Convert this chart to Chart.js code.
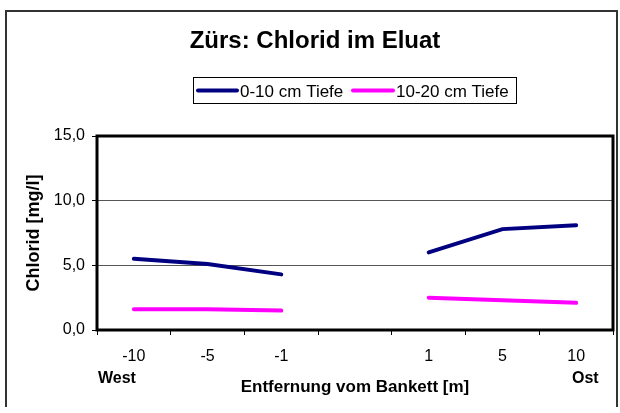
<!DOCTYPE html>
<html>
<head>
<meta charset="utf-8">
<script src="https://cdn.jsdelivr.net/npm/chart.js@4"></script>
<style>
  html, body { margin: 0; padding: 0; background: #fff; }
  #wrap { width: 620px; height: 413px; position: relative; }
</style>
</head>
<body>
<div id="wrap"><canvas id="chart" width="620" height="413"></canvas></div>
<script>
// Zürs – Chlorid im Eluat
const categories = ['-10', '-5', '-1', '', '1', '5', '10'];
const tiefe0_10 = [5.5, 5.1, 4.3, null, 6.0, 7.8, 8.1];
const tiefe10_20 = [1.6, 1.6, 1.5, null, 2.5, 2.3, 2.1];
const yMin = 0, yMax = 15, yStep = 5;

const FONT = "'Liberation Sans', Arial, sans-serif";

const colors = {
  navy: '#000080',
  pink: '#ff00ff',
  frame: '#000',
  grid: '#555',
};

// title, legend box, West/Ost, outer border, plot frame
const decor = {
  id: 'decor',
  afterDraw(chart) {
    const ctx = chart.ctx;
    const a = chart.chartArea;
    ctx.save();

    // outer border
    ctx.strokeStyle = '#333';
    ctx.lineWidth = 2;
    ctx.beginPath();
    ctx.moveTo(6, 407);
    ctx.lineTo(6, 11);
    ctx.lineTo(617, 11);
    ctx.lineTo(617, 407);
    ctx.stroke();

    // plot frame
    ctx.strokeStyle = colors.frame;
    ctx.lineWidth = 3;
    ctx.strokeRect(a.left, a.top, a.right - a.left, a.bottom - a.top);

    // chart title
    ctx.fillStyle = '#000';
    ctx.font = 'bold 24px ' + FONT;
    ctx.textAlign = 'center';
    ctx.textBaseline = 'alphabetic';
    ctx.fillText('Zürs: Chlorid im Eluat', 315, 48);

    // legend
    ctx.lineWidth = 1;
    ctx.strokeStyle = '#000';
    ctx.strokeRect(193.5, 77.5, 323, 26);
    const items = [
      { x0: 198, x1: 237, tx: 240 },
      { x0: 353, x1: 393, tx: 396 },
    ];
    ctx.font = '17px ' + FONT;
    ctx.textAlign = 'left';
    chart.data.datasets.forEach((ds, i) => {
      const it = items[i];
      ctx.strokeStyle = ds.borderColor;
      ctx.lineWidth = 4;
      ctx.lineCap = 'round';
      ctx.beginPath();
      ctx.moveTo(it.x0, 90.5);
      ctx.lineTo(it.x1, 90.5);
      ctx.stroke();
      ctx.fillText(ds.label, it.tx, 97);
    });

    // West / Ost
    ctx.font = 'bold 16px ' + FONT;
    ctx.textAlign = 'left';
    ctx.fillText('West', 98, 383);
    ctx.fillText('Ost', 572, 383);

    ctx.restore();
  }
};

new Chart(document.getElementById('chart'), {
  type: 'line',
  data: {
    labels: categories,
    datasets: [
      {
        label: '0-10 cm Tiefe',
        data: tiefe0_10,
        borderColor: colors.navy,
        backgroundColor: colors.navy,
        borderWidth: 4,
        borderCapStyle: 'round',
        pointRadius: 0,
        tension: 0,
        spanGaps: false,
      },
      {
        label: '10-20 cm Tiefe',
        data: tiefe10_20,
        borderColor: colors.pink,
        backgroundColor: colors.pink,
        borderWidth: 4,
        borderCapStyle: 'round',
        pointRadius: 0,
        tension: 0,
        spanGaps: false,
      }
    ]
  },
  options: {
    responsive: false,
    animation: false,
    devicePixelRatio: 1,
    layout: { padding: { top: 136, right: 7, left: 0, bottom: 0 } },
    plugins: {
      legend: { display: false },
      title: { display: false },
      tooltip: { enabled: false },
    },
    scales: {
      x: {
        type: 'category',
        offset: true,
        afterFit: s => { s.height = 83; },
        grid: {
          offset: true,
          drawOnChartArea: false,
          drawTicks: true,
          tickLength: 5,
          tickColor: '#000',
          tickWidth: 1,
        },
        border: { display: false },
        ticks: {
          color: '#000',
          font: { family: FONT, size: 16 },
          padding: 12,
          maxRotation: 0,
          autoSkip: false,
        },
        title: {
          display: true,
          text: 'Entfernung vom Bankett [m]',
          color: '#000',
          font: { family: FONT, size: 17, weight: 'bold' },
          padding: { top: 0, bottom: 15 },
        }
      },
      y: {
        min: yMin,
        max: yMax,
        afterFit: s => { s.width = 97; },
        grid: {
          color: c => (c.tick.value === yMin || c.tick.value === yMax) ? 'rgba(0,0,0,0)' : colors.grid,
          lineWidth: 1,
          drawTicks: true,
          tickLength: 5,
          tickColor: '#000',
          tickWidth: 1,
        },
        border: { display: false },
        ticks: {
          stepSize: yStep,
          color: '#000',
          font: { family: FONT, size: 16 },
          padding: 7,
          callback: v => v.toFixed(1).replace('.', ','),
        },
        title: {
          display: true,
          text: 'Chlorid [mg/l]',
          color: '#000',
          font: { family: FONT, size: 18, weight: 'bold' },
          padding: { top: 23, bottom: 0 },
        }
      }
    }
  },
  plugins: [decor]
});
</script>
</body>
</html>
